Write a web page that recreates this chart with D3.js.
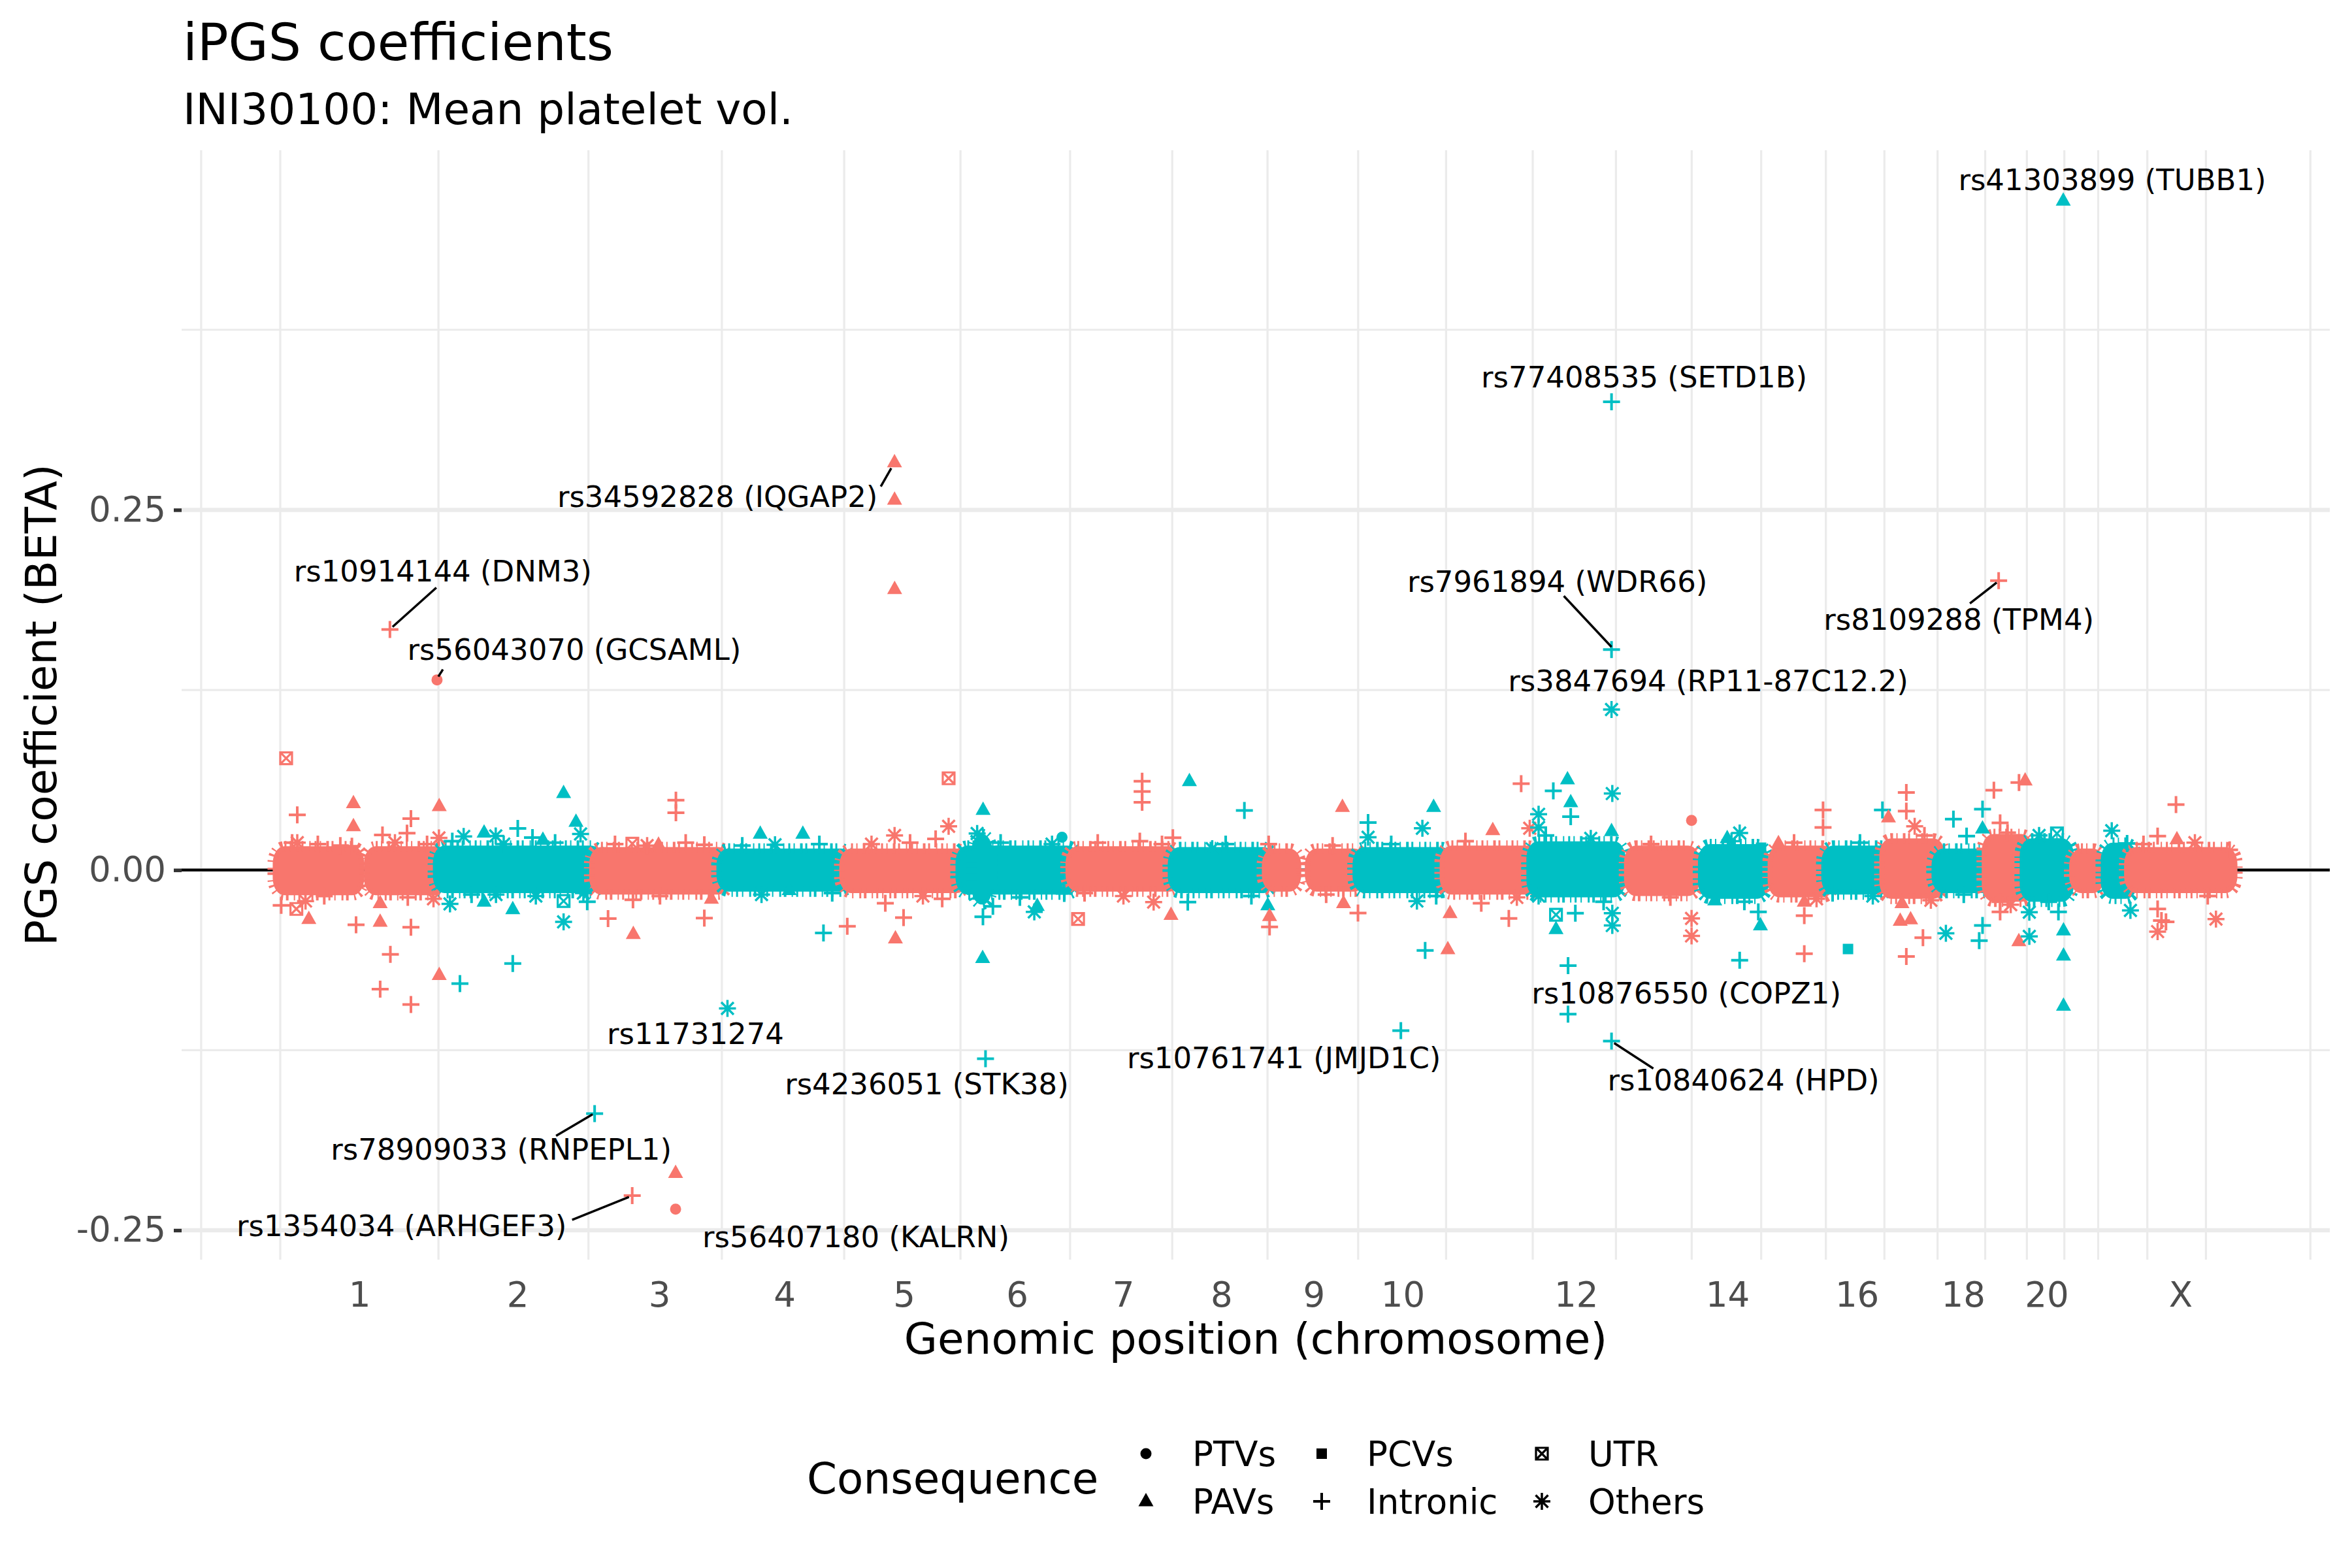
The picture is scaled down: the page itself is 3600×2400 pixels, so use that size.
<!DOCTYPE html>
<html><head><meta charset="utf-8">
<script src="https://cdn.jsdelivr.net/npm/d3@7"></script>
<style>body{margin:0;background:#fff}svg{display:block}text{font-family:"DejaVu Sans",sans-serif}</style>
</head><body><svg id="c" width="3600" height="2400"></svg>
<script>
// ---------------- data ----------------
const chromNames = ["1","2","3","4","5","6","7","8","9","10","11","12","13","14","15","16","17","18","19","20","21","22","X","XY"];
const chromLengthsMb = [249.25,243.20,198.02,191.15,180.92,171.12,159.14,146.36,141.21,135.53,135.01,133.85,115.17,107.35,102.53,90.35,81.20,78.08,59.13,63.03,48.13,51.30,155.27,2.70];
const chromTickLabels = ["1","2","3","4","5","6","7","8","9","10","","12","","14","","16","","18","","20","","","X",""];
const consequenceLevels = ["PTVs","PAVs","PCVs","Intronic","UTR","Others"];
const chromColors = ["#F8766D","#00BFC4"];
const yTickValues = [-0.25, 0, 0.25];

// dense core of near-zero coefficients: [chrom, startMb, endMb, upper beta, lower beta]
const denseBands = [
 ["1",1,121,0.0115,-0.0125],["1",143,249,0.0115,-0.0125],
 ["2",1,243,0.012,-0.011],
 ["3",1,198,0.011,-0.012],
 ["4",1,191,0.010,-0.010],
 ["5",1,180,0.010,-0.011],
 ["6",1,171,0.012,-0.012],["6",26,36,0.020,-0.019],
 ["7",1,159,0.0115,-0.010],
 ["8",1,146,0.011,-0.011],
 ["9",1,40,0.010,-0.010],["9",68,141,0.010,-0.010],
 ["10",1,135,0.011,-0.011],
 ["11",1,135,0.012,-0.012],
 ["12",1,133,0.015,-0.014],
 ["13",19,115,0.012,-0.013],
 ["14",19,107,0.013,-0.015],
 ["15",20,102,0.012,-0.014],
 ["16",1,90,0.012,-0.012],
 ["17",1,81,0.017,-0.015],
 ["18",1,78,0.010,-0.011],
 ["19",1,59,0.020,-0.017],
 ["20",1,63,0.017,-0.017],
 ["21",15,48,0.010,-0.011],
 ["22",16,51,0.014,-0.015],
 ["X",1,155,0.011,-0.011]
];

// other variants away from the core: [chrom, posMb, beta, consequence index]
const variantPoints = [
 ["1",10.7,0.0776,4],["1",28,0.0383,3],["1",28,0.019,5],["1",115.4,0.0463,1],["1",115.4,0.0304,1],
 ["1",204.9,0.0357,3],["1",198.8,0.0256,3],["1",160.6,0.0244,3],["1",113,0.0165,3],["1",248.9,0.0443,1],
 ["1",248.5,0.0223,5],["1",119.5,-0.038,3],["1",157,-0.036,1],["1",172.9,-0.0585,3],["1",157,-0.0827,3],
 ["1",204.9,-0.0933,3],["1",204.9,-0.0397,3],["1",248.9,-0.0729,1],["1",46,-0.034,1],["1",26.6,-0.027,4],
 ["1",3,-0.0245,3],["1",40.9,-0.0215,5],["1",157,-0.023,1],
 ["1",20,0.019,3],["1",60,0.018,3],["1",95,0.017,3],["1",180,0.019,5],["1",230,0.018,3],["1",70,-0.018,3],["1",200,-0.019,3],["1",240,-0.02,5],
 ["2",193.2,0.0534,1],["2",212.5,0.0334,1],["2",121.9,0.0289,3],["2",87.6,0.0237,5],["2",69.5,0.026,1],
 ["2",37.7,0.0233,5],["2",144.8,0.0226,3],["2",161,0.021,1],["2",219.6,0.025,5],["2",114.1,-0.0649,3],
 ["2",31.9,-0.0788,3],["2",193.2,-0.036,5],["2",193.2,-0.0215,4],["2",114.1,-0.0272,1],["2",16.4,-0.0235,5],
 ["2",69.5,-0.022,1],["2",88,-0.017,5],["2",224,-0.016,5],
 ["2",20,0.02,3],["2",100,0.018,5],["2",180,0.019,3],["2",50,-0.017,3],["2",150,-0.018,5],["2",230,-0.022,3],
 ["3",124.8,0.0485,3],["3",124.8,0.0398,3],["3",58.5,-0.0445,1],["3",19.2,-0.0337,3],["3",169,-0.0333,3],
 ["3",57,0.0183,4],["3",97.7,0.0176,1],["3",169,0.0176,3],["3",58,-0.0207,3],
 ["3",30,0.018,3],["3",80,0.017,5],["3",140,0.019,3],["3",100,-0.018,3],["3",180,-0.02,1],
 ["4",58,0.0251,1],["4",124.3,0.0251,1],["4",81,0.0176,5],["4",156.4,-0.0437,3],["4",103,-0.014,1],
 ["4",30,0.017,3],["4",150,0.018,3],["4",60,-0.017,5],["4",170,-0.016,3],
 ["5",160,0.0637,4],["5",160,0.0304,5],["5",2.3,-0.039,3],["5",77.2,-0.0475,1],["5",89.9,-0.033,3],
 ["5",139.8,0.0216,3],["5",75.9,0.024,5],["5",61.5,-0.023,3],
 ["5",40,0.018,5],["5",100,0.019,3],["5",150,-0.02,3],["5",120,-0.018,5],
 ["6",32.7,0.0417,1],["6",32,-0.0611,1],["6",32.5,-0.0324,3],["6",23.5,0.0254,5],["6",48,-0.0252,3],
 ["6",112.4,-0.029,5],["6",117,-0.025,1],["6",155.5,0.0228,0],["6",159,-0.0162,3],
 ["6",60,0.019,3],["6",140,0.018,5],["6",90,-0.019,3],
 ["7",9.4,-0.034,4],["7",109.1,0.0617,3],["7",109.1,0.0545,3],["7",109.1,0.047,3],["7",156.9,0.0224,3],
 ["7",154,-0.0312,1],["7",105.5,0.020,3],["7",127,-0.0222,5],["7",19.5,-0.016,3],
 ["7",40,0.019,3],["7",80,-0.018,5],["7",140,0.018,3],
 ["8",23.5,0.0617,1],["8",109.1,0.0414,3],["8",145.5,-0.0245,1],["8",21,-0.0222,3],["8",59,0.0148,5],
 ["8",80,0.018,3],["8",120,-0.018,3],
 ["9",1.9,-0.032,1],["9",1.9,-0.0395,3],["9",0.5,0.018,3],["9",115.3,0.0437,1],["9",139.5,-0.0298,3],["9",117,-0.023,1],
 ["9",100,0.017,3],["9",90,-0.017,3],
 ["10",14,0.033,3],["10",14,0.0228,5],["10",116,0.0437,1],["10",98.5,0.029,5],["10",102.8,-0.0558,3],["10",90,-0.0215,5],
 ["10",50,0.018,3],["10",120,-0.018,3],
 ["11",2.6,-0.055,1],["11",6,-0.030,1],["11",72.5,0.0277,1],["11",116.7,0.0599,3],["11",97.5,-0.0336,3],
 ["11",54.6,-0.023,3],["11",130,0.029,5],["11",30,0.02,3],["11",110,-0.019,5],
 ["12",53.8,0.0629,1],["12",31.7,0.055,3],["12",58.8,0.047,1],["12",58.8,0.037,3],["12",123.5,0.0531,5],
 ["12",8.8,0.0387,5],["12",8.8,0.0296,5],["12",54.6,-0.100,3],["12",35.9,-0.031,4],["12",35.9,-0.041,1],
 ["12",123.5,-0.0385,5],["12",123.5,-0.030,5],["12",66,-0.030,3],["12",8.8,-0.018,5],["12",122.3,0.027,1],
 ["12",20,0.024,3],["12",90,0.022,5],["12",110,-0.022,3],
 ["13",113,0.0345,0],["13",113,-0.0336,5],["13",113,-0.0457,5],["13",50,0.018,3],["13",80,-0.019,3],
 ["14",53.3,0.0221,1],["14",72.7,0.0257,5],["14",72.7,-0.0626,3],["14",33.9,-0.0211,1],["14",105,-0.0385,1],
 ["14",101.7,-0.029,3],["14",106,0.0155,2],["14",60,0.02,5],["14",80,-0.022,3],
 ["15",95.1,0.0417,3],["15",95.1,0.0296,3],["15",65.9,-0.0581,3],["15",65.9,-0.0317,3],["15",65.9,-0.022,1],["15",25.7,0.0186,1],
 ["15",50,0.019,3],["15",85,-0.02,5],
 ["16",31.4,-0.0548,2],["16",7.4,-0.016,3],["16",85,0.0417,3],["16",50,0.019,3],["16",70,-0.018,5],
 ["17",31.8,0.0538,3],["17",31.8,0.0409,3],["17",4,0.0365,1],["17",44.8,0.0304,5],["17",31.8,-0.06,3],
 ["17",57.7,-0.047,3],["17",22.3,-0.0353,1],["17",38.5,-0.0343,1],["17",25,-0.023,1],["17",60,0.024,3],["17",70,-0.021,5],
 ["18",23.9,0.0354,3],["18",69.2,0.0423,3],["18",69.2,0.0288,1],["18",44.4,0.0236,3],["18",12.2,-0.0439,5],
 ["18",69.2,-0.0385,3],["18",64,-0.049,3],["18",40,-0.017,3],
 ["19",8.8,0.0554,3],["19",57.4,0.0621,1],["19",47.9,0.0607,3],["19",18.5,0.0327,3],["19",47.6,-0.0494,1],
 ["19",18.5,-0.022,3],["19",18.5,-0.029,3],["19",30,0.026,3],["19",35,-0.024,5],
 ["20",58,-0.042,1],["20",58,-0.0594,1],["20",58,-0.0942,1],["20",4.8,-0.0293,5],["20",4.8,-0.046,5],
 ["20",50.1,-0.029,3],["20",47.8,0.0254,4],["20",20,0.024,5],["20",35,-0.022,3],
 ["22",21.9,0.0273,5],["22",51,-0.028,5],["22",45.8,0.0185,3],
 ["X",70.6,0.0455,3],["X",72,0.0213,1],["X",42,0.0236,3],["X",42,-0.027,3],["X",48,-0.035,3],
 ["X",55,-0.036,3],["X",42,-0.0427,5],["X",132.8,-0.034,5],["X",154,0.014,3],
 ["X",20,0.018,3],["X",100,0.019,5],["X",120,-0.018,3],
 ["5",75.9,0.257,1],["5",76,0.195,1],["3",124.3,-0.2103,1]
];

// annotated variants: [label, chrom, posMb, beta, consequence index]
const labeledVariants = [
 ["rs41303899 (TUBB1)","20",57.6,0.4646,1],
 ["rs77408535 (SETD1B)","12",122.3,0.325,3],
 ["rs34592828 (IQGAP2)","5",75.8,0.283,1],
 ["rs8109288 (TPM4)","19",16.2,0.2009,3],
 ["rs10914144 (DNM3)","1",172.2,0.167,3],
 ["rs7961894 (WDR66)","12",122.3,0.153,3],
 ["rs56043070 (GCSAML)","1",245.5,0.132,0],
 ["rs3847694 (RP11-87C12.2)","12",122.3,0.1114,5],
 ["rs10876550 (COPZ1)","12",54.7,-0.0663,3],
 ["rs11731274","4",7,-0.096,5],
 ["rs10761741 (JMJD1C)","10",65,-0.1115,3],
 ["rs10840624 (HPD)","12",122.3,-0.1187,3],
 ["rs4236051 (STK38)","6",36.5,-0.131,3],
 ["rs78909033 (RNPEPL1)","2",241.5,-0.169,3],
 ["rs1354034 (ARHGEF3)","3",56.8,-0.226,3],
 ["rs56407180 (KALRN)","3",124.3,-0.2354,0]
];

// ---------------- layout ----------------
const W = 3600, H = 2400;
const panel = {left: 278, right: 3566, top: 230, bottom: 1928};
// label placement (repelled), px offsets from the point: [dx, dy, segStart, segEnd]
const labelLayout = [
 [75,-32,null,null],
 [50,-38,null,null],
 [-271,53,[-21,37],[-5,9]],
 [-61,60,[-44,35],[-3,3]],
 [81,-89,[71,-64],[4,-4]],
 [-83,-104,[-73,-82],[0,-4]],
 [210,-46,[9,-16],[2,-5]],
 [148,-44,null,null],
 [181,42,null,null],
 [-49,39,null,null],
 [-179,42,null,null],
 [202,60,[64,42],[4,3]],
 [-90,39,null,null],
 [-143,55,[-59,34],[-3,1]],
 [-353,46,[-92,37],[-5,2]],
 [276,42,null,null]
];

const svg = d3.select("#c");
svg.append("rect").attr("width",W).attr("height",H).attr("fill","#fff");

const cumStart = {}; let acc = 0;
chromNames.forEach((c,i)=>{cumStart[c]=acc; acc+=chromLengthsMb[i];});
const total = acc;
const chromIndex = c => chromNames.indexOf(c);
const colorOf = c => chromColors[chromIndex(c)%2];

const x = d3.scaleLinear().domain([-0.05*total, 1.05*total]).range([panel.left, panel.right]);
const allBetas = variantPoints.map(d=>d[2]).concat(labeledVariants.map(d=>d[3]));
const [bmin,bmax] = d3.extent(allBetas);
const bpad = (bmax-bmin)*0.05;
const y = d3.scaleLinear().domain([bmin-bpad, bmax+bpad]).range([panel.bottom, panel.top]);

// grid
const grid = svg.append("g");
const centers = chromNames.map((c,i)=>cumStart[c]+chromLengthsMb[i]/2);
function minorBreaks(b, dom){
  let bb = b.slice(); const bd = bb[1]-bb[0];
  if (dom[0] < bb[0]) bb.unshift(bb[0]-bd);
  if (dom[1] > bb[bb.length-1]) bb.push(bb[bb.length-1]+bd);
  const out = [];
  for (let i=0;i<bb.length-1;i++){ out.push(bb[i]); out.push((bb[i]+bb[i+1])/2); }
  out.push(bb[bb.length-1]);
  return out.filter(v => v>=dom[0] && v<=dom[1] && !b.some(m=>Math.abs(m-v)<1e-9));
}
minorBreaks(centers, x.domain()).forEach(v=>{
  grid.append("line").attr("x1",x(v)).attr("x2",x(v)).attr("y1",panel.top).attr("y2",panel.bottom)
    .attr("stroke","#EBEBEB").attr("stroke-width",3.2);
});
minorBreaks(yTickValues, y.domain()).forEach(v=>{
  grid.append("line").attr("x1",panel.left).attr("x2",panel.right).attr("y1",y(v)).attr("y2",y(v))
    .attr("stroke","#EBEBEB").attr("stroke-width",3.2);
});
yTickValues.forEach(v=>{
  grid.append("line").attr("x1",panel.left).attr("x2",panel.right).attr("y1",y(v)).attr("y2",y(v))
    .attr("stroke","#EBEBEB").attr("stroke-width",6.5);
});

// zero line
svg.append("line").attr("x1",panel.left).attr("x2",panel.right).attr("y1",y(0)).attr("y2",y(0))
  .attr("stroke","#000").attr("stroke-width",4.3);

// dense bands
const bandG = svg.append("g");
const mpad = 11;
denseBands.forEach(b=>{
  const x0 = x(cumStart[b[0]]+b[1]) - mpad, x1 = x(cumStart[b[0]]+b[2]) + mpad;
  const y0 = y(b[3]) - mpad, y1 = y(b[4]) + mpad;
  bandG.append("rect").attr("x",x0).attr("y",y0).attr("width",x1-x0).attr("height",y1-y0)
    .attr("rx",18).attr("ry",Math.min(26,(y1-y0)/2))
    .attr("fill",colorOf(b[0])).attr("stroke",colorOf(b[0])).attr("stroke-width",16)
    .attr("stroke-dasharray","3 5 2 8 4 4 3 9 2 6");
});

// markers
function marker(g, type, cx, cy, col){
  const t = g.append("g").attr("transform",`translate(${cx},${cy})`);
  if (type===0) t.append("circle").attr("r",8.5).attr("fill",col);
  else if (type===1) t.append("path").attr("d","M0,-13L11.5,7.5L-11.5,7.5Z").attr("fill",col);
  else if (type===2) t.append("rect").attr("x",-8).attr("y",-8).attr("width",16).attr("height",16).attr("fill",col);
  else if (type===3) t.append("path").attr("d","M-13,0H13M0,-13V13").attr("stroke",col).attr("stroke-width",4).attr("fill","none");
  else if (type===4) t.append("path").attr("d","M-9,-9H9V9H-9ZM-9,-9L9,9M-9,9L9,-9").attr("stroke",col).attr("stroke-width",3.2).attr("fill","none");
  else if (type===5) t.append("path").attr("d","M-13,0H13M0,-13V13M-9.5,-9.5L9.5,9.5M-9.5,9.5L9.5,-9.5").attr("stroke",col).attr("stroke-width",3.5).attr("fill","none");
}
const ptG = svg.append("g");
variantPoints.forEach(d=>marker(ptG, d[3], x(cumStart[d[0]]+d[1]), y(d[2]), colorOf(d[0])));
labeledVariants.forEach(d=>marker(ptG, d[4], x(cumStart[d[1]]+d[2]), y(d[3]), colorOf(d[1])));

// labels
const labG = svg.append("g");
labeledVariants.forEach((d,i)=>{
  const px = x(cumStart[d[1]]+d[2]), py = y(d[3]);
  const L = labelLayout[i];
  if (L[2]) labG.append("line").attr("x1",px+L[2][0]).attr("y1",py+L[2][1]).attr("x2",px+L[3][0]).attr("y2",py+L[3][1])
     .attr("stroke","#000").attr("stroke-width",3.5);
  labG.append("text").attr("x",px+L[0]).attr("y",py+L[1]).attr("dy","0.35em").attr("text-anchor","middle")
    .attr("font-size",45).attr("fill","#000").text(d[0]);
});

// axes
const yAxis = d3.axisLeft(y).tickValues(yTickValues).tickFormat(v=>v.toFixed(2)).tickSize(12).tickPadding(12);
const yg = svg.append("g").attr("transform",`translate(${panel.left},0)`).call(yAxis);
yg.select(".domain").remove();
yg.selectAll(".tick line").attr("stroke","#333333").attr("stroke-width",5.5);
yg.selectAll(".tick text").attr("font-size",53).attr("fill","#4D4D4D").attr("font-family","DejaVu Sans");

const xAxis = d3.axisBottom(x).tickValues(centers).tickFormat((v,i)=>chromTickLabels[i]).tickSize(0).tickPadding(34);
const xg = svg.append("g").attr("transform",`translate(0,${panel.bottom})`).call(xAxis);
xg.select(".domain").remove();
xg.selectAll(".tick text").attr("font-size",53).attr("fill","#4D4D4D").attr("font-family","DejaVu Sans");

// titles
svg.append("text").attr("x",280).attr("y",92).attr("font-size",79).attr("fill","#000").text("iPGS coefficients");
svg.append("text").attr("x",280).attr("y",190).attr("font-size",66).attr("fill","#000").text("INI30100: Mean platelet vol.");
svg.append("text").attr("x",(panel.left+panel.right)/2).attr("y",2072).attr("text-anchor","middle").attr("font-size",66).text("Genomic position (chromosome)");
svg.append("text").attr("transform",`translate(86,${(panel.top+panel.bottom)/2}) rotate(-90)`).attr("text-anchor","middle").attr("font-size",66).text("PGS coefficient (BETA)");

// legend
const lg = svg.append("g");
lg.append("text").attr("x",1235).attr("y",2286).attr("font-size",66).text("Consequence");
const colKeyX = [1754,2023,2360], colLabX = [1825,2092,2431], rowY = [2225,2298];
consequenceLevels.forEach((name,i)=>{
  const col = Math.floor(i/2), row = i%2;
  marker(lg, i, colKeyX[col], rowY[row], "#000");
  lg.append("text").attr("x",colLabX[col]).attr("y",rowY[row]).attr("dy","0.35em").attr("font-size",53).text(name);
});
</script></body></html>
